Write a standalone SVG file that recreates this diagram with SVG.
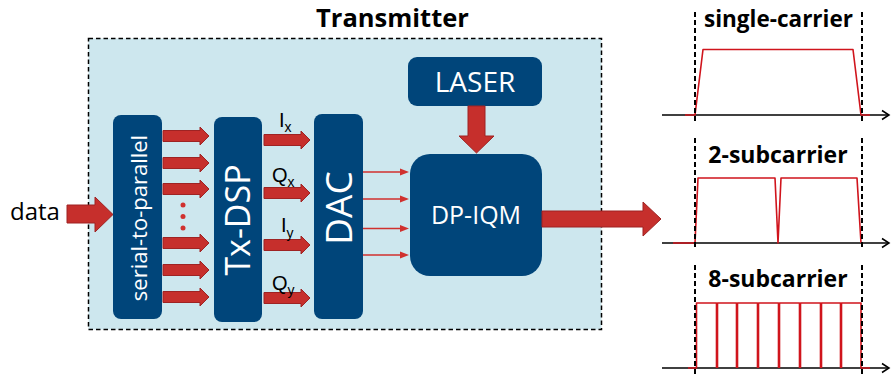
<svg xmlns="http://www.w3.org/2000/svg" width="891" height="374" viewBox="0 0 891 374">
  <style>
    .blk { fill: #00457a; }
    .wt { fill: #ffffff; font-family: "Open Sans", "Noto Sans", sans-serif; }
    .big { fill: #c62f2c; stroke: #9e2323; stroke-width: 1; }
    .thin { stroke: #d0312e; stroke-width: 1.6; fill: none; }
    .lbl { font-family: "Liberation Sans", Arial, sans-serif; fill: #000; }
    .ttl { font-family: "Open Sans", "Noto Sans", sans-serif; font-weight: bold; fill: #000; }
    .dash { stroke: #000; stroke-width: 2; stroke-dasharray: 5 3; fill: none; }
    .axis { stroke: #000; stroke-width: 1.5; fill: none; }
    .sig { stroke: #d0141c; stroke-width: 1.6; fill: none; stroke-linejoin: round; }
  </style>
  <defs>
    <path id="arrS" d="M0,-5.5 H37 V-9 L46,0 L37,9 V5.5 H0 Z"/>
    <marker id="tri" markerUnits="userSpaceOnUse" markerWidth="10" markerHeight="8" refX="0" refY="4" orient="auto" overflow="visible">
      <path d="M0,0.5 L9,4 L0,7.5 Z" fill="#d0312e"/>
    </marker>
  </defs>

  <!-- transmitter enclosure -->
  <g id="transmitter">
    <rect x="88.5" y="38.5" width="513" height="291" fill="#cde7ee" stroke="#000" stroke-width="1.5" stroke-dasharray="4.5 3"/>
    <text class="ttl" x="392.5" y="27" font-size="25.5" text-anchor="middle">Transmitter</text>
  </g>

  <!-- input label -->
  <g id="data">
    <text x="10" y="220" font-family="'Open Sans', 'Noto Sans', sans-serif" font-size="24" fill="#000">data</text>
  </g>

  <g id="serial-to-parallel">
    <rect class="blk" x="113" y="115" width="49" height="204" rx="8"/>
    <text class="wt" transform="translate(147,218) rotate(-90)" font-size="22" text-anchor="middle">serial-to-parallel</text>
  </g>

  <g id="tx-dsp">
    <rect class="blk" x="214" y="117" width="48" height="205" rx="8"/>
    <text class="wt" transform="translate(250,220) rotate(-90)" font-size="34" text-anchor="middle">Tx-DSP</text>
  </g>

  <g id="dac">
    <rect class="blk" x="314" y="114" width="49" height="205" rx="8"/>
    <text class="wt" transform="translate(352,208) rotate(-90)" font-size="37" text-anchor="middle">DAC</text>
  </g>

  <g id="laser">
    <rect class="blk" x="408" y="57" width="134" height="49" rx="9"/>
    <text class="wt" x="475" y="92" font-size="28" text-anchor="middle">LASER</text>
  </g>

  <g id="dp-iqm">
    <rect class="blk" x="410" y="154" width="132" height="122" rx="20"/>
    <text class="wt" x="476" y="224" font-size="25" text-anchor="middle">DP-IQM</text>
  </g>

  <!-- connectors -->
  <g id="connectors">
    <path class="big" d="M67,205 H95 V197 L113,214.5 L95,232 V223 H67 Z"/>
    <!-- parallel lanes into the DSP -->
    <use href="#arrS" class="big" transform="translate(163,136)"/>
    <use href="#arrS" class="big" transform="translate(163,163)"/>
    <use href="#arrS" class="big" transform="translate(163,189)"/>
    <use href="#arrS" class="big" transform="translate(163,243)"/>
    <use href="#arrS" class="big" transform="translate(163,270)"/>
    <use href="#arrS" class="big" transform="translate(163,297)"/>
    <circle cx="183" cy="205" r="2.5" fill="#d0312e"/>
    <circle cx="183" cy="216.5" r="2.5" fill="#d0312e"/>
    <circle cx="183" cy="228" r="2.5" fill="#d0312e"/>
    <!-- I/Q tributaries into the DAC -->
    <use href="#arrS" class="big" transform="translate(264,140)"/>
    <use href="#arrS" class="big" transform="translate(264,193)"/>
    <use href="#arrS" class="big" transform="translate(264,245)"/>
    <use href="#arrS" class="big" transform="translate(264,298)"/>
    <!-- analogue drive lines into the modulator -->
    <line class="thin" x1="363" y1="172" x2="400" y2="172" marker-end="url(#tri)"/>
    <line class="thin" x1="363" y1="199" x2="400" y2="199" marker-end="url(#tri)"/>
    <line class="thin" x1="363" y1="228.5" x2="400" y2="228.5" marker-end="url(#tri)"/>
    <line class="thin" x1="363" y1="255" x2="400" y2="255" marker-end="url(#tri)"/>
    <!-- laser into modulator -->
    <path class="big" d="M468,106 V136 H459 L476.5,153 L494,136 H485 V106 Z"/>
    <!-- modulated output -->
    <path class="big" d="M542,211 H643 V202 L661,219 L643,236 V227 H542 Z"/>
  </g>

  <!-- tributary labels -->
  <g id="iq-labels" class="lbl">
    <text x="279" y="127" font-size="20">I<tspan font-size="14" dy="5">x</tspan></text>
    <text x="272" y="182" font-size="20">Q<tspan font-size="14" dy="5">x</tspan></text>
    <text x="281" y="232" font-size="20">I<tspan font-size="14" dy="6">y</tspan></text>
    <text x="272" y="290" font-size="20">Q<tspan font-size="14" dy="5">y</tspan></text>
  </g>

  <!-- spectrum: single carrier -->
  <g id="spectrum-single">
    <line class="axis" x1="662" y1="115" x2="889" y2="115"/>
    <path class="axis" d="M882,110.5 L889,115 L882,119.5"/>
    <path class="sig" d="M685,115 H695 L703,49.5 H853 L861,115 H870"/>
    <line class="dash" x1="695" y1="12" x2="695" y2="122"/>
    <line class="dash" x1="862" y1="12" x2="862" y2="122"/>
    <text class="ttl" x="778.5" y="27" font-size="22.5" text-anchor="middle">single-carrier</text>
  </g>

  <!-- spectrum: two subcarriers -->
  <g id="spectrum-2sc">
    <line class="axis" x1="662" y1="243" x2="889" y2="243"/>
    <path class="axis" d="M882,238.5 L889,243 L882,247.5"/>
    <path class="sig" d="M673,243 H695 L698,178 H775 L778,243 L781,178 H857 L861,243"/>
    <line class="dash" x1="695" y1="138" x2="695" y2="250"/>
    <line class="dash" x1="862" y1="138" x2="862" y2="250"/>
    <text class="ttl" x="778" y="163" font-size="23" text-anchor="middle">2-subcarrier</text>
  </g>

  <!-- spectrum: eight subcarriers -->
  <g id="spectrum-8sc">
    <line class="axis" x1="662" y1="368" x2="889" y2="368"/>
    <path class="axis" d="M882,363.5 L889,368 L882,372.5"/>
    <path class="sig" d="M688,368 H696.5 V303 H716.5 V368 M717.5,368 V303 H736.5 V368 M737.5,368 V303 H757.5 V368 M758.5,368 V303 H778.5 V368 M779.5,368 V303 H799.5 V368 M800.5,368 V303 H820.5 V368 M821.5,368 V303 H840.5 V368 M841.5,368 V303 H861 V368 H870"/>
    <line class="dash" x1="695" y1="265" x2="695" y2="374"/>
    <line class="dash" x1="862" y1="265" x2="862" y2="374"/>
    <text class="ttl" x="778" y="287" font-size="23" text-anchor="middle">8-subcarrier</text>
  </g>
</svg>
